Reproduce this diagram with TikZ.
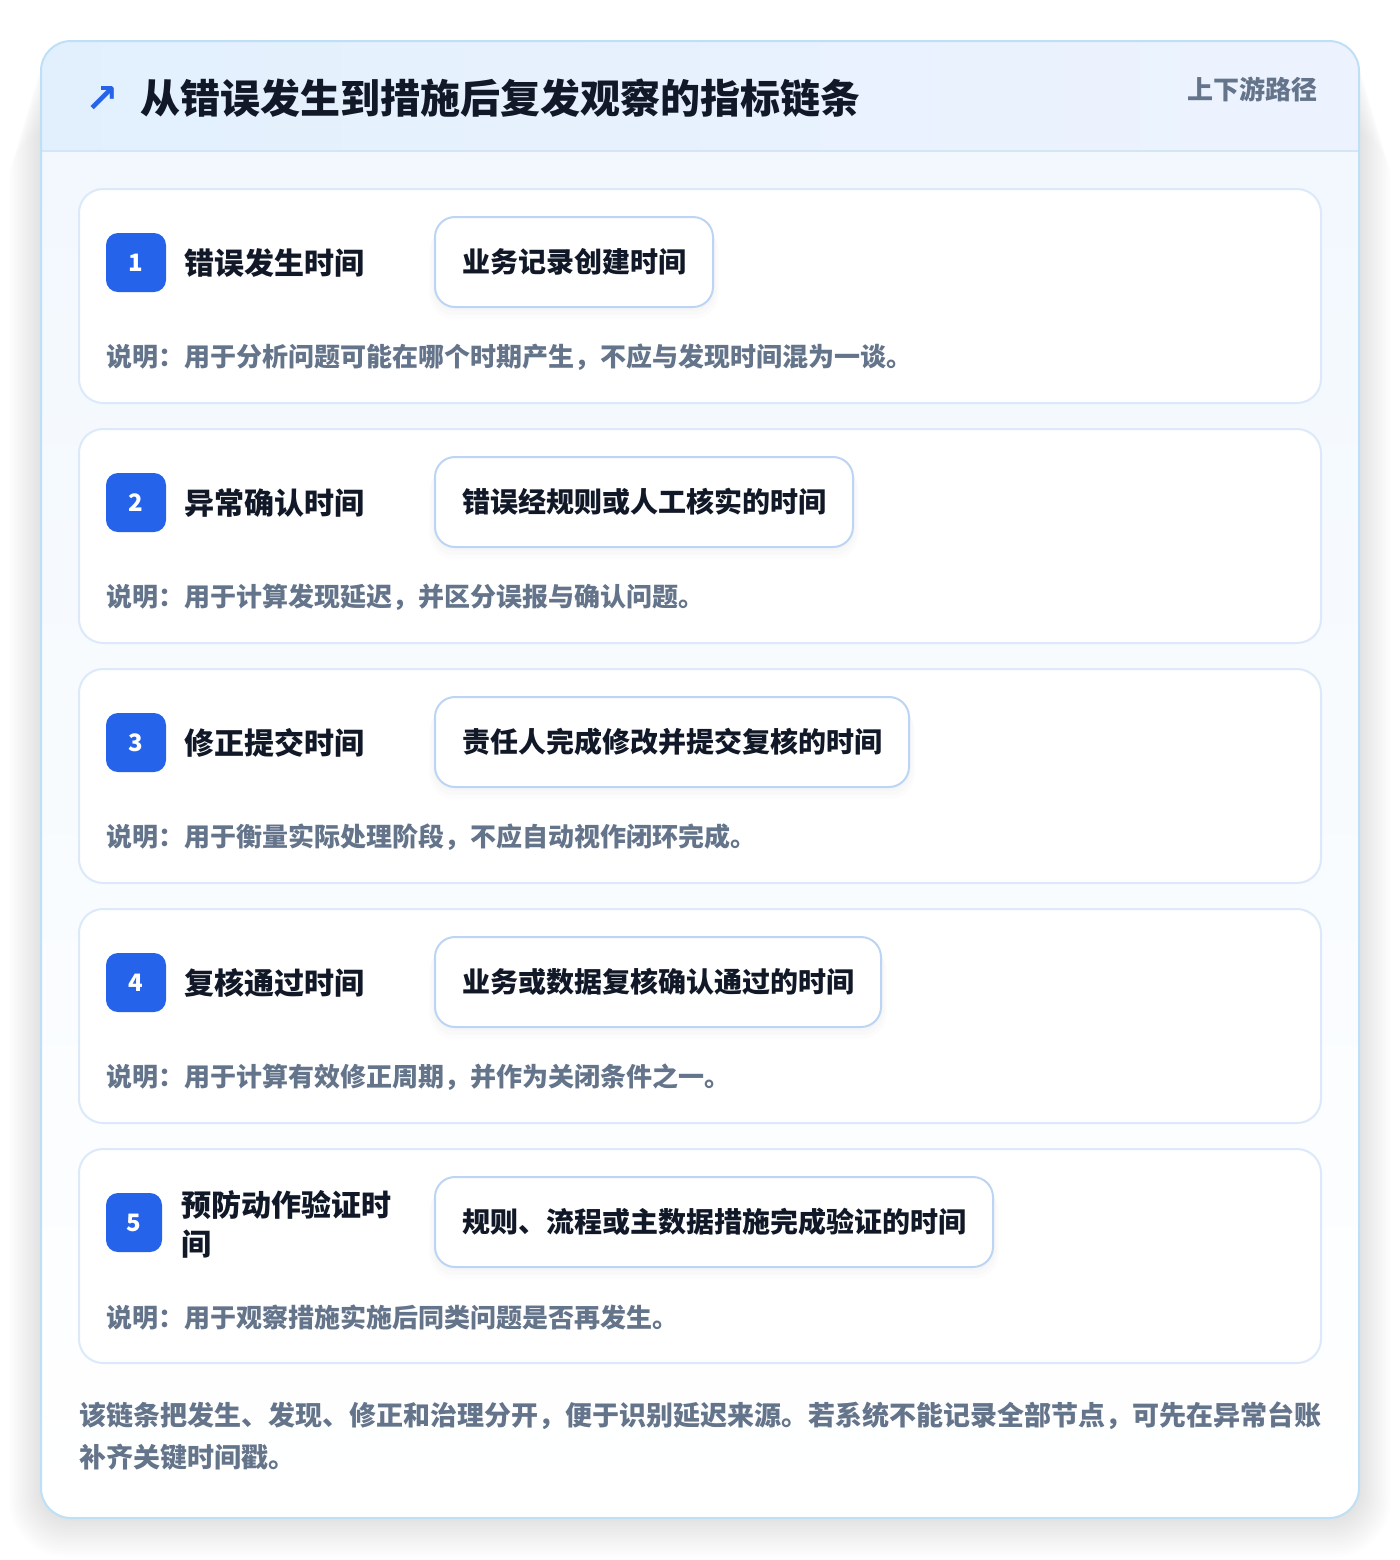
\documentclass[tikz,border=0pt]{standalone}
\usepackage{fontspec}
\setmainfont{Noto Sans CJK SC}
\newfontfamily\symfont{DejaVu Sans}
\definecolor{cardborder}{HTML}{DBE9FA}
\definecolor{outerborder}{HTML}{BEE0F6}
\definecolor{hdrline}{HTML}{D3E6F8}
\definecolor{pillborder}{HTML}{BCD5F5}
\definecolor{accent}{HTML}{2563EB}
\definecolor{ink}{HTML}{111827}
\definecolor{muted}{HTML}{64748B}
\definecolor{hdrL}{HTML}{E2F0FD}
\definecolor{hdrR}{HTML}{EDF3FE}
\definecolor{bodyT}{HTML}{F2F8FE}
\tikzset{
  cardbox/.style={draw=cardborder, fill=white, line width=1pt, rounded corners=12pt},
  pillbox/.style={draw=pillborder, fill=white, line width=1pt, rounded corners=10pt},
  badge/.style={fill=accent, text=white, rounded corners=6pt, minimum width=30pt, minimum height=29.5pt, inner sep=0pt, font=\fontsize{12}{14}\selectfont\bfseries},
  label/.style={anchor=west, inner sep=0pt, text=ink, font=\fontsize{15}{19.5}\selectfont\bfseries},
  pilltext/.style={anchor=west, inner sep=0pt, text=ink, font=\fontsize{14}{17}\selectfont\bfseries},
  desc/.style={anchor=west, inner sep=0pt, text=muted, font=\fontsize{13}{16}\selectfont\bfseries},
}
\begin{document}
\begin{tikzpicture}[x=0.5pt,y=-0.5pt]
\useasboundingbox (0,0) rectangle (1400,1560);
\fill[white] (0,0) rectangle (1400,1560);
% outer shadow
\foreach \i in {1,...,14}{
  \fill[black, opacity=0.007, rounded corners=15pt+\i*1pt] (41-\i*2.3,41+\i*6) rectangle (1359+\i*2.3,1518+\i*2.8);
}
\fill[white, rounded corners=15pt] (41,41) rectangle (1359,1518);
\begin{scope}
  \clip[rounded corners=15pt] (41,41) rectangle (1359,1518);
  \shade[left color=hdrL, right color=hdrR] (41,41) rectangle (1359,151);
  \shade[top color=bodyT, bottom color=white] (41,151) rectangle (1359,1518);
\end{scope}
\draw[hdrline, line width=1pt] (41,151) -- (1359,151);
\draw[outerborder, line width=1pt, rounded corners=15pt] (41,41) rectangle (1359,1518);

% header
\node[text=accent, inner sep=0pt, font=\fontsize{20}{24}\selectfont\symfont\bfseries] (icon) at (102,99) {↗};
\node[anchor=west, inner sep=0pt, text=ink, font=\fontsize{20}{24}\selectfont\bfseries] (title) at (140,98) {从错误发生到措施后复发观察的指标链条};
\node[anchor=east, inner sep=0pt, text=muted, font=\fontsize{13}{16}\selectfont\bfseries] (path) at (1318,89) {上下游路径};

% cards
\foreach \t/\n/\lab/\pr/\ptxt/\dtxt in {
  189/1/错误发生时间/713/业务记录创建时间/说明：用于分析问题可能在哪个时期产生，不应与发现时间混为一谈。,
  429/2/异常确认时间/853/错误经规则或人工核实的时间/说明：用于计算发现延迟，并区分误报与确认问题。,
  669/3/修正提交时间/909/责任人完成修改并提交复核的时间/说明：用于衡量实际处理阶段，不应自动视作闭环完成。,
  909/4/复核通过时间/881/业务或数据复核确认通过的时间/说明：用于计算有效修正周期，并作为关闭条件之一。}{
  \draw[cardbox] (79,\t) rectangle (1321,\t+214);
  \node[badge] (b\n) at (136,\t+73.5) {\n};
  \node[label] (l\n) at (184,\t+74) {\lab};
  \foreach \k in {1,2,3}{
    \fill[black, opacity=0.012, rounded corners=10pt+\k*1pt] (435-\k*2,\t+28+\k*3) rectangle (\pr+\k*2,\t+118+\k*4);
  }
  \draw[pillbox] (435,\t+28) rectangle (\pr,\t+118);
  \node[pilltext] (p\n) at (462,\t+73) {\ptxt};
  \node[desc] (d\n) at (106,\t+168) {\dtxt};
}
% card 5
\draw[cardbox] (79,1149) rectangle (1321,1363);
\node[badge, minimum width=28pt] (b5) at (134,1222.5) {5};
\node[label, align=left] (l5) at (181,1224) {预防动作验证时\\间};
\foreach \k in {1,2,3}{
  \fill[black, opacity=0.012, rounded corners=10pt+\k*1pt] (435-\k*2,1177+\k*3) rectangle (993+\k*2,1267+\k*4);
}
\draw[pillbox] (435,1177) rectangle (993,1267);
\node[pilltext] (p5) at (462,1222) {规则、流程或主数据措施完成验证的时间};
\node[desc] (d5) at (106,1317) {说明：用于观察措施实施后同类问题是否再发生。};

% footer
\node[anchor=west, inner sep=0pt, align=left, text=muted, font=\fontsize{13.5}{21}\selectfont\bfseries] (foot) at (79,1436) {该链条把发生、发现、修正和治理分开，便于识别延迟来源。若系统不能记录全部节点，可先在异常台账\\补齐关键时间戳。};
\end{tikzpicture}
\end{document}
